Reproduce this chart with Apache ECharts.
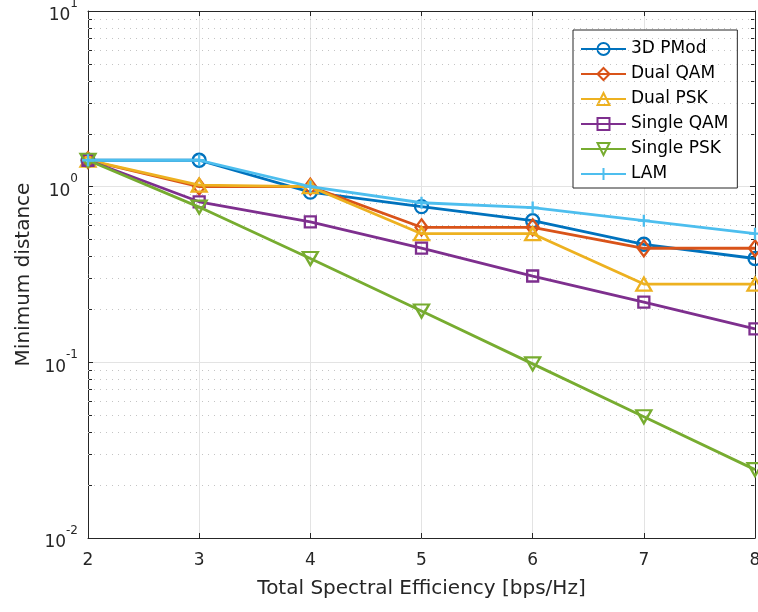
<!DOCTYPE html>
<html><head><meta charset="utf-8">
<script src="https://cdn.jsdelivr.net/npm/echarts@6/dist/echarts.min.js"></script>
<style>html,body{margin:0;padding:0;background:#fff}#c{width:758px;height:612px}</style>
</head><body><div id="c"></div>
<script>
const xValues = [2, 3, 4, 5, 6, 7, 8];
const pmod3d = [1.414, 1.414, 0.93, 0.77, 0.64, 0.47, 0.39];
const dualQam = [1.414, 1.0, 1.0, 0.587, 0.587, 0.446, 0.446];
const dualPsk = [1.414, 1.02, 1.0, 0.54, 0.54, 0.279, 0.279];
const singleQam = [1.414, 0.82, 0.63, 0.447, 0.31, 0.22, 0.155];
const singlePsk = [1.414, 0.765, 0.39, 0.196, 0.098, 0.049, 0.0245];
const lam = [1.414, 1.414, 1.0, 0.81, 0.76, 0.64, 0.54];
const seriesNames = ['3D PMod', 'Dual QAM', 'Dual PSK', 'Single QAM', 'Single PSK', 'LAM'];
const yTickLabels = {0.01: '-2', 0.1: '-1', 1: '0', 10: '1'};

const minorVals = [];
[0.01, 0.1, 1].forEach(d => { for (let m = 2; m <= 9; m++) minorVals.push(+(m * d).toPrecision(3)); });

const colors = ['#0072BD', '#D95319', '#EDB120', '#7E2F8E', '#77AC30', '#4DBEEE'];
const symbols = [
  'path://M10,5A5,5 0 1 1 0,5A5,5 0 1 1 10,5Z',
  'path://M5,0L10,8L5,16L0,8Z',
  'path://M5,0L10,9L0,9Z',
  'path://M0,0L10,0L10,10L0,10Z',
  'path://M0,0L10,0L5,9Z',
  'path://M5,0L5,10M0,5L10,5'
];
const sizes = [13, [12, 16], [15, 13], 11, [15, 13], 12];
const datasets = [pmod3d, dualQam, dualPsk, singleQam, singlePsk, lam];
const FONT = 'DejaVu Sans, Liberation Sans, Arial, sans-serif';
const TXT = '#262626';

const series = datasets.map((d, i) => ({
  name: seriesNames[i], type: 'line',
  data: xValues.map((x, j) => [x, d[j]]),
  symbol: symbols[i], symbolSize: sizes[i],
  showAllSymbol: true,
  lineStyle: {color: colors[i], width: 2.8},
  itemStyle: {color: 'rgba(0,0,0,0)', borderColor: colors[i], borderWidth: 2.3},
  emphasis: {disabled: true},
  z: 10 + i
}));
series[0].markLine = {
  silent: true, symbol: 'none', label: {show: false}, animation: false,
  lineStyle: {color: '#c4c4c4', type: [1, 5], width: 1},
  data: minorVals.map(v => ({yAxis: v}))
};

const chart = echarts.init(document.getElementById('c'));
chart.setOption({
  animation: false,
  backgroundColor: '#fff',
  textStyle: {fontFamily: FONT},
  grid: {left: 88, right: 3, top: 11, bottom: 74, outerBoundsMode: 'none', containLabel: false},
  legend: {
    orient: 'vertical', left: 573, top: 30,
    backgroundColor: '#fff', borderColor: '#262626', borderWidth: 1,
    padding: [10, 9, 5, 7], itemWidth: 45, itemHeight: 15, itemGap: 7,
    textStyle: {fontSize: 17, lineHeight: 18, color: '#000', fontFamily: FONT},
    data: seriesNames
  },
  xAxis: [{
    type: 'value', min: 2, max: 8, interval: 1,
    name: 'Total Spectral Efficiency [bps/Hz]', nameLocation: 'middle', nameGap: 41,
    nameTextStyle: {fontSize: 20, color: TXT, fontFamily: FONT},
    axisLine: {lineStyle: {color: '#262626', width: 1}},
    axisTick: {inside: true, length: 5, lineStyle: {color: '#262626'}},
    axisLabel: {fontSize: 17, color: TXT, margin: 14, fontFamily: FONT},
    splitLine: {show: true, lineStyle: {color: '#e3e3e3', width: 1}}
  }, {
    type: 'value', min: 2, max: 8, interval: 1, position: 'top',
    axisLine: {lineStyle: {color: '#262626', width: 1}},
    axisTick: {inside: true, length: 5, lineStyle: {color: '#262626'}},
    axisLabel: {show: false}, splitLine: {show: false}
  }],
  yAxis: [{
    type: 'log', logBase: 10, min: 0.01, max: 10,
    name: 'Minimum distance', nameLocation: 'middle', nameGap: 47,
    nameTextStyle: {fontSize: 20, color: TXT, fontFamily: FONT},
    axisLine: {lineStyle: {color: '#262626', width: 1}},
    axisTick: {inside: true, length: 5, lineStyle: {color: '#262626'}},
    axisLabel: {
      margin: 10, color: TXT,
      formatter: v => { const k = Object.keys(yTickLabels).find(kk => Math.abs(+kk - v) < 1e-9 * Math.max(1, v)); return k ? '{b|10}{s|' + yTickLabels[k] + '}' : ''; },
      rich: {b: {fontSize: 17, color: TXT, fontFamily: FONT, padding: [10, 0, 0, 0]}, s: {fontSize: 12, color: TXT, fontFamily: FONT, verticalAlign: 'top', padding: [0, 0, 6, 0]}}
    },
    splitLine: {show: true, lineStyle: {color: '#e3e3e3', width: 1}}
  }, {
    type: 'log', logBase: 10, min: 0.01, max: 10, position: 'left',
    axisLine: {show: false},
    axisTick: {inside: true, length: 4, customValues: minorVals, lineStyle: {color: '#262626'}},
    axisLabel: {show: false}, splitLine: {show: false}
  }, {
    type: 'log', logBase: 10, min: 0.01, max: 10, position: 'right',
    axisLine: {show: true, lineStyle: {color: '#262626', width: 1}},
    axisTick: {inside: true, length: 5, lineStyle: {color: '#262626'}},
    axisLabel: {show: false}, splitLine: {show: false}
  }, {
    type: 'log', logBase: 10, min: 0.01, max: 10, position: 'right',
    axisLine: {show: false},
    axisTick: {inside: true, length: 4, customValues: minorVals, lineStyle: {color: '#262626'}},
    axisLabel: {show: false}, splitLine: {show: false}
  }],
  series: series
});
</script></body></html>
